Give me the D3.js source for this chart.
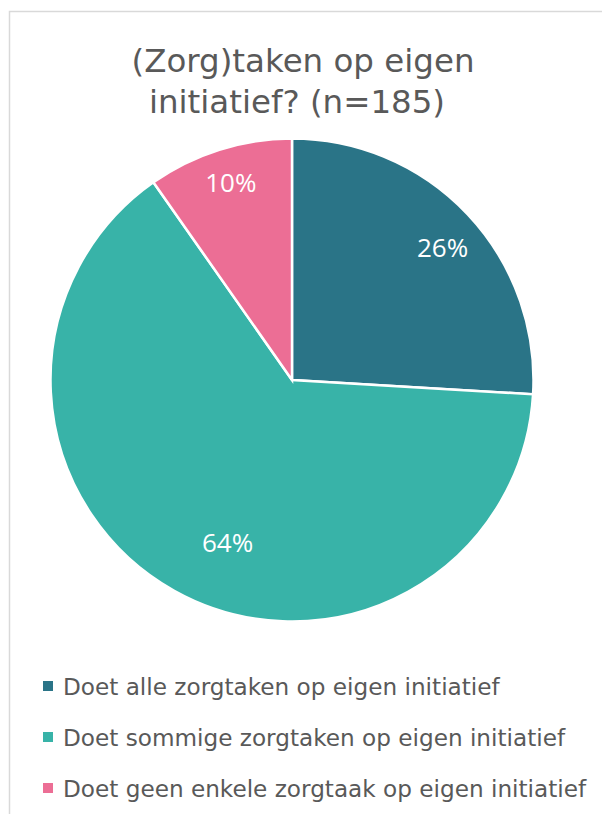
<!DOCTYPE html>
<html>
  <head>
    <meta charset="utf-8">
    <title>(Zorg)taken op eigen initiatief</title>
    <script src="https://d3js.org/d3.v7.min.js"></script>
    <style>
      body { margin: 0; background: #ffffff; }
      text { font-family: "DejaVu Sans", sans-serif; }
    </style>
  </head>
  <body>
    <svg width="602" height="814"></svg>
    <script>
      // data (aantallen, n=185)
      var categories = [
        "Doet alle zorgtaken op eigen initiatief",
        "Doet sommige zorgtaken op eigen initiatief",
        "Doet geen enkele zorgtaak op eigen initiatief"
      ];
      var counts = [48, 119, 18];
      var pctLabels = ["26%", "64%", "10%"];
      var titleLines = ["(Zorg)taken op eigen", "initiatief? (n=185)"];

      var colors = ["#2a7487", "#38b3a8", "#ec6e95"];
      var textColor = "#595959";

      var svg = d3.select("svg");

      // kader
      svg.append("rect")
        .attr("x", 9.5).attr("y", 11.5)
        .attr("width", 700).attr("height", 900)
        .attr("fill", "none")
        .attr("stroke", "#d9d9d9")
        .attr("stroke-width", 1.5);

      // schaal tekst zodat breedte klopt met het origineel
      function fitWidth(sel, target) {
        var w = sel.node().getComputedTextLength();
        var fs = parseFloat(sel.style("font-size"));
        var nfs = fs * target / w;
        sel.style("font-size", nfs + "px");
        return nfs;
      }

      // titel
      var t1 = svg.append("text")
        .attr("x", 303).attr("y", 72)
        .attr("text-anchor", "middle")
        .attr("fill", textColor)
        .style("font-size", "36px")
        .text(titleLines[0]);
      var titleSize = fitWidth(t1, 343);
      svg.append("text")
        .attr("x", 297).attr("y", 113)
        .attr("text-anchor", "middle")
        .attr("fill", textColor)
        .style("font-size", titleSize + "px")
        .text(titleLines[1]);

      // taart
      var cx = 292, cy = 380, radius = 241.5;
      var g = svg.append("g").attr("transform", "translate(" + cx + "," + cy + ")");

      var pie = d3.pie().sort(null).value(function(d) { return d; });
      var arcs = pie(counts);
      var arc = d3.arc().innerRadius(0).outerRadius(radius);

      g.selectAll("path.slice")
        .data(arcs)
        .enter()
        .append("path")
        .attr("class", "slice")
        .attr("d", arc)
        .attr("fill", function(d, i) { return colors[i]; })
        .attr("stroke", "#ffffff")
        .attr("stroke-width", 2.5)
        .attr("stroke-linejoin", "miter");

      // label plaatsing (best fit zoals Excel): hoekverschuiving (graden) en straal-fractie
      var labelPlace = [[2, 0.83], [-7.6, 0.725], [0.3, 0.856]];

      g.selectAll("text.pct")
        .data(arcs)
        .enter()
        .append("text")
        .attr("class", "pct")
        .attr("transform", function(d, i) {
          var a = (d.startAngle + d.endAngle) / 2 + labelPlace[i][0] * Math.PI / 180;
          var r = radius * labelPlace[i][1];
          return "translate(" + (Math.sin(a) * r) + "," + (-Math.cos(a) * r) + ")";
        })
        .attr("text-anchor", "middle")
        .attr("dy", "0.36em")
        .attr("fill", "#ffffff")
        .style("font-family", "'Open Sans', 'Noto Sans', sans-serif")
        .style("font-size", "26px")
        .text(function(d, i) { return pctLabels[i]; });

      // legenda
      var legendY = d3.scalePoint().domain(categories).range([695, 797]);
      var legend = svg.selectAll("g.legend")
        .data(categories)
        .enter()
        .append("g")
        .attr("class", "legend")
        .attr("transform", function(d) { return "translate(0," + legendY(d) + ")"; });

      legend.append("rect")
        .attr("x", 43).attr("y", -14)
        .attr("width", 10).attr("height", 10)
        .attr("fill", function(d, i) { return colors[i]; });

      var legendText = legend.append("text")
        .attr("x", 63).attr("y", 0)
        .attr("fill", textColor)
        .style("font-size", "22px")
        .text(function(d) { return d; });

      var legSize = fitWidth(d3.select(legendText.nodes()[0]), 437);
      legendText.style("font-size", legSize + "px");
    </script>
  </body>
</html>
